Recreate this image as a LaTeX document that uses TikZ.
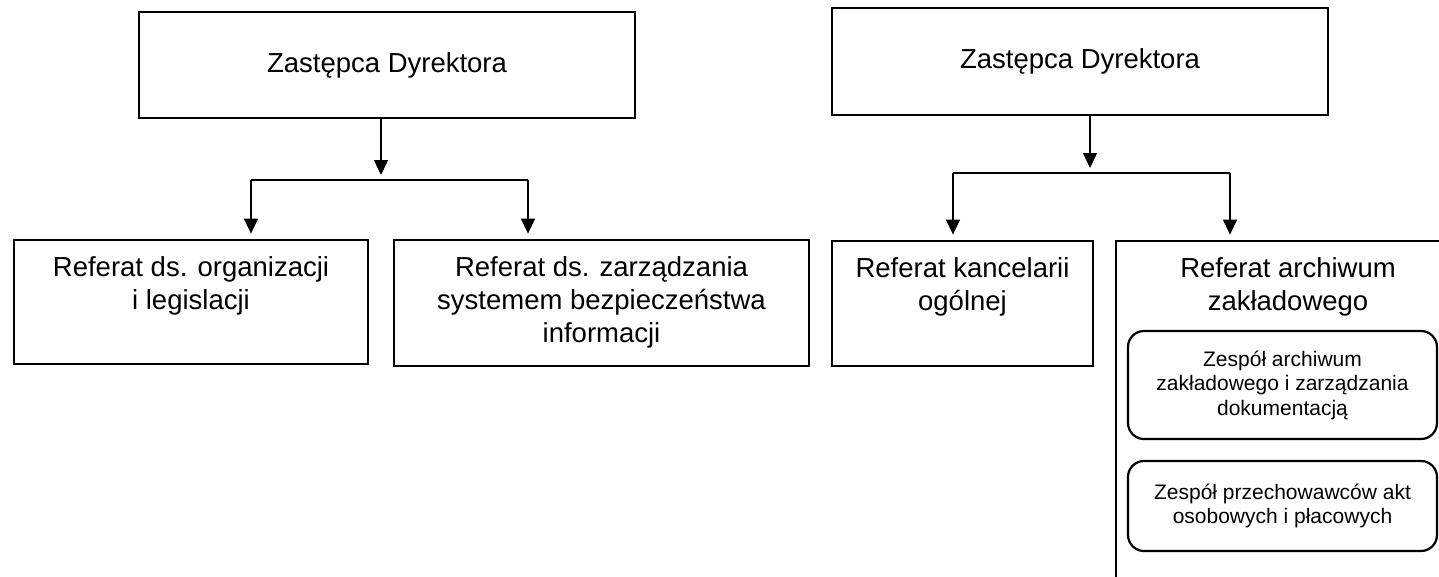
\documentclass[tikz,border=0pt]{standalone}
\usepackage{fontspec}
\setmainfont{Liberation Sans}
\usetikzlibrary{arrows.meta,positioning}

\tikzset{
  unitbox/.style={draw, line width=2.8pt, inner sep=0pt},
  teambox/.style={draw, line width=2.2pt, rounded corners=16pt, inner sep=0pt},
  boxtext/.style={inner sep=0pt, align=center, font=\fontsize{27.5}{33}\selectfont},
  teamtext/.style={inner sep=0pt, align=center, font=\fontsize{21}{24.5}\selectfont},
  link/.style={line width=1.4pt},
  arr/.style={line width=1.4pt, shorten >=5pt, -{Triangle[length=15pt,width=14pt]}}
}

\begin{document}
\begin{tikzpicture}[x=1pt,y=-1pt]
    \useasboundingbox (0,0) rectangle (1439,576);
    \clip (0,0) rectangle (1439,576);

    % Draw the left deputy director
    \node[unitbox, boxtext, minimum width=496pt, minimum height=106pt] (dirL) at (387,65) {Zastępca Dyrektora};

    % Draw the right deputy director
    \node[unitbox, boxtext, minimum width=496pt, minimum height=107pt] (dirR) at (1080,61.5) {Zastępca Dyrektora};

    % Draw the units under the left director
    \node[unitbox, minimum width=354pt, minimum height=124pt] (orgBox) at (191,302) {};
    \node[boxtext, below=18pt of orgBox.north] (orgText) {Referat ds. organizacji\\i legislacji};

    \node[unitbox, minimum width=415pt, minimum height=126pt] (zarBox) at (601.5,303) {};
    \node[boxtext, below=18pt of zarBox.north] (zarText) {Referat ds. zarządzania\\systemem bezpieczeństwa\\informacji};

    % Draw the units under the right director
    \node[unitbox, minimum width=261pt, minimum height=125pt] (kanBox) at (962.5,303.5) {};
    \node[boxtext, below=18pt of kanBox.north] (kanText) {Referat kancelarii\\ogólnej};

    \node[unitbox, minimum width=344pt, minimum height=378pt] (archBox) at (1288,430) {};
    \node[boxtext, below=18pt of archBox.north] (archText) {Referat archiwum\\zakładowego};

    % Draw the teams inside the archive unit
    \node[teambox, teamtext, minimum width=309pt, minimum height=108pt] (zespA) at (1282.5,385) {Zespół archiwum\\zakładowego i zarządzania\\dokumentacją};
    \node[teambox, teamtext, minimum width=309pt, minimum height=90pt] (zespB) at (1282.5,506) {Zespół przechowawców akt\\osobowych i płacowych};

    % Draw the left branching
    \coordinate (jL) at (381,180);
    \coordinate (jLa) at (251,180);
    \coordinate (jLb) at (528,180);
    \draw[arr] (dirL.south -| jL) -- (jL);
    \draw[link] (jLa) -- (jLb);
    \draw[arr] (jLa) -- (jLa |- orgBox.north);
    \draw[arr] (jLb) -- (jLb |- zarBox.north);

    % Draw the right branching
    \coordinate (jR) at (1090,173);
    \coordinate (jRa) at (953,173);
    \coordinate (jRb) at (1230,173);
    \draw[arr] (dirR.south -| jR) -- (jR);
    \draw[link] (jRa) -- (jRb);
    \draw[arr] (jRa) -- (jRa |- kanBox.north);
    \draw[arr] (jRb) -- (jRb |- archBox.north);

\end{tikzpicture}
\end{document}
